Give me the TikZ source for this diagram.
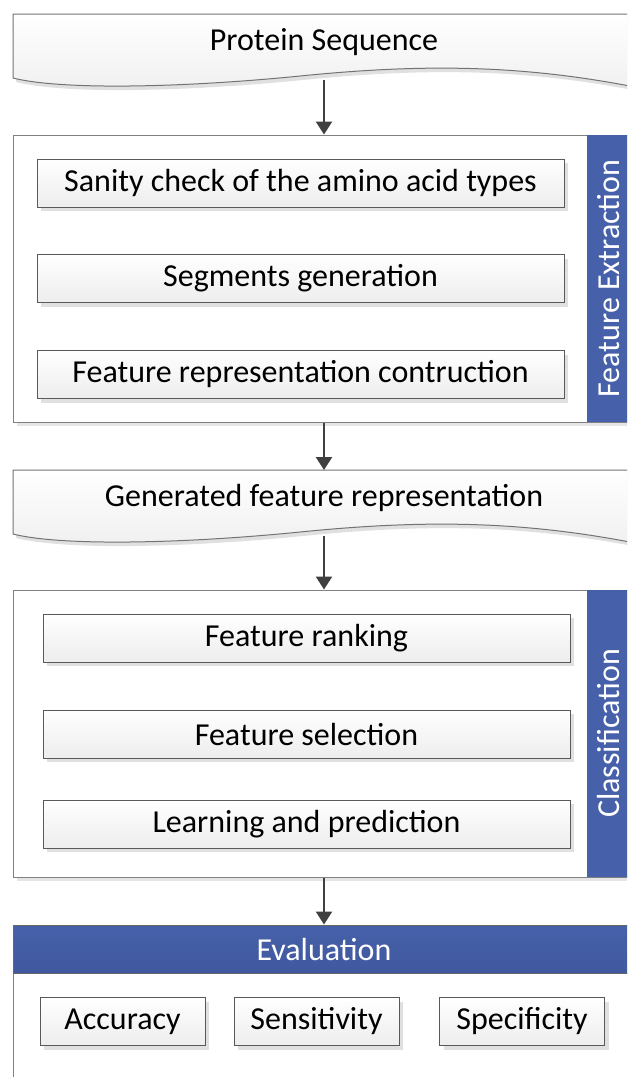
\documentclass[tikz,border=0pt]{standalone}
\usepackage{fontspec}
\setmainfont{Carlito}
\usetikzlibrary{arrows.meta,shadows}
\definecolor{barblue}{RGB}{70,97,170}
\definecolor{barblue2}{RGB}{64,88,158}
\definecolor{linegray}{RGB}{64,64,64}
\tikzset{
  stepbox/.style={draw=black!65, line width=1pt, rectangle, inner sep=0pt,
    top color=white, bottom color=black!7, minimum height=48pt,
    drop shadow={shadow xshift=4pt, shadow yshift=-4pt, fill=black!12, opacity=1}},
  panel/.style={draw=black!50, line width=1pt, rectangle, fill=white, inner sep=0pt,
    minimum width=622pt, minimum height=287pt,
    drop shadow={shadow xshift=4pt, shadow yshift=-4pt, fill=black!10, opacity=1}},
  bar/.style={fill=barblue, rectangle, inner sep=0pt, minimum width=48pt, minimum height=287pt},
  barlabel/.style={rotate=90, text=white, inner sep=0pt},
  docbox/.style={draw=black!55, line width=1pt, top color=white, bottom color=black!6,
    drop shadow={shadow xshift=3pt, shadow yshift=-4pt, fill=black!12, opacity=1}},
  arr/.style={draw=linegray, line width=2.5pt, -{Triangle[length=13pt,width=16pt]}}
}
\begin{document}
\begin{tikzpicture}[x=1pt, y=-1pt, font=\fontsize{32}{38}\selectfont]
\useasboundingbox (0,0) rectangle (627,1077);
\clip (0,0) rectangle (627,1077);

% input sequence
\path[docbox] (13,14) -- (640,14) -- (640,88) .. controls (520,64) and (420,64) .. (300,76)
  .. controls (180,88) and (60,90) .. (13,78) -- cycle;
\node (seq) at (324,42) {Protein Sequence};
\coordinate (seqb) at (324,80);

% feature extraction
\node[panel] (fe) at (324,278.5) {};
\node[bar, anchor=north east] (febar) at (fe.north east) {};
\node[barlabel] (felab) at (609,278.5) {Feature Extraction};
\node[stepbox, minimum width=527pt] (sanity) at (300.5,183) {Sanity check of the amino acid types};
\node[stepbox, minimum width=527pt] (segm) at (300.5,278.5) {Segments generation};
\node[stepbox, minimum width=527pt] (frc) at (300.5,374.5) {Feature representation contruction};

% generated features
\path[docbox] (13,470) -- (640,470) -- (640,544) .. controls (520,520) and (420,520) .. (300,532)
  .. controls (180,544) and (60,546) .. (13,534) -- cycle;
\node (gen) at (324,498) {Generated feature representation};
\coordinate (genb) at (324,536);

% classification
\node[panel] (cl) at (324,733.5) {};
\node[bar, anchor=north east] (clbar) at (cl.north east) {};
\node[barlabel] (cllab) at (609,733.5) {Classification};
\node[stepbox, minimum width=527pt] (rank) at (306.5,638) {Feature ranking};
\node[stepbox, minimum width=527pt] (sel) at (306.5,734) {Feature selection};
\node[stepbox, minimum width=527pt] (learn) at (306.5,824) {Learning and prediction};

% evaluation
\draw[draw=black!50, line width=1pt, fill=white] (13,973) rectangle (640,1100);
\node[draw=black!60, line width=1pt, top color=barblue, bottom color=barblue2, text=white,
  minimum width=622pt, minimum height=48pt, inner sep=0pt] (ev) at (324,949) {Evaluation};
\node[stepbox, minimum width=165pt] (acc) at (122.5,1021.5) {Accuracy};
\node[stepbox, minimum width=165pt] (sens) at (316.5,1021.5) {Sensitivity};
\node[stepbox, minimum width=165pt] (spec) at (522,1021.5) {Specificity};

\path[arr] (seqb) -- (fe.north);
\path[arr] (fe.south) -- (gen.north |- 0,470);
\path[arr] (genb) -- (cl.north);
\path[arr] (cl.south) -- (ev.north);
\end{tikzpicture}
\end{document}
